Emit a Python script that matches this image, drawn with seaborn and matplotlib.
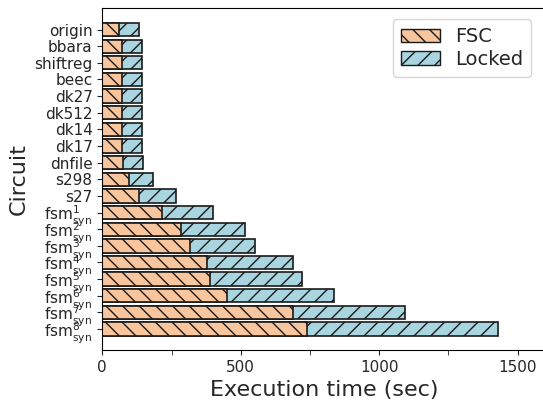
"""
Execution time per circuit: FSC time plus locking time, stacked horizontally.
"""

import pandas as pd
import numpy as np
import matplotlib.pyplot as plt
import seaborn as sns
from matplotlib.patches import Patch

# ---------------------------------------------------------------------------
# Data (seconds), top to bottom as in the figure
# ---------------------------------------------------------------------------
circuits = ["origin", "bbara", "shiftreg", "beec", "dk27", "dk512", "dk14",
            "dk17", "dnfile", "s298", "s27"] + \
           [r"fsm$_{\mathrm{syn}}^{%d}$" % i for i in range(1, 9)]

fsc_time = [61, 72, 72, 72, 72, 72, 72, 72, 73, 98, 132,
            214, 285, 315, 379, 390, 451, 688, 740]
locked_time = [71, 72, 72, 72, 72, 72, 72, 72, 75, 86, 133,
               184, 231, 235, 311, 332, 385, 405, 690]

FSC_COLOR = "#f8c59c"
LOCK_COLOR = "#a8d5e0"
EDGE = "#1a1a1a"

df = pd.DataFrame({"circuit": circuits, "FSC": fsc_time, "Locked": locked_time})
df["total"] = df["FSC"] + df["Locked"]

# ---------------------------------------------------------------------------
# Plot
# ---------------------------------------------------------------------------
sns.set_style("ticks")
plt.rcParams.update({"font.family": "DejaVu Sans", "hatch.linewidth": 1.0})

fig = plt.figure(figsize=(5.43, 4.01), dpi=100)
ax = fig.add_axes([0.1884, 0.1272, 0.816, 0.853])

# total first (Locked hatch), FSC drawn on top of its left part
sns.barplot(data=df, x="total", y="circuit", orient="h", color=LOCK_COLOR,
            saturation=1, width=0.8, edgecolor=EDGE, linewidth=1.2, ax=ax)
n = len(df)
for p in ax.patches[:n]:
    p.set_hatch("//")
sns.barplot(data=df, x="FSC", y="circuit", orient="h", color=FSC_COLOR,
            saturation=1, width=0.8, edgecolor=EDGE, linewidth=1.2, ax=ax)
for p in ax.patches[n:]:
    p.set_hatch("\\\\")

ax.set_xlim(0, 1600)
ax.set_ylim(n - 1 + 1.26, -1.3)
ax.set_xticks([0, 500, 1000, 1500])
ax.set_xticks([250, 750, 1250], minor=True)
ax.tick_params(axis="both", labelsize=11)
ax.tick_params(axis="x", which="minor", length=3.5)
ax.set_xlabel("Execution time (sec)", fontsize=16)
ax.set_ylabel("Circuit", fontsize=16)
for side in ["top", "right", "left", "bottom"]:
    ax.spines[side].set_visible(True)
    ax.spines[side].set_color("black")

handles = [Patch(facecolor=FSC_COLOR, edgecolor=EDGE, hatch="\\\\", label="FSC"),
           Patch(facecolor=LOCK_COLOR, edgecolor=EDGE, hatch="//", label="Locked")]
ax.legend(handles=handles, loc="upper right", fontsize=14, frameon=True,
          bbox_to_anchor=(0.99, 0.995), handlelength=2.0, borderpad=0.4,
          labelspacing=0.2)

fig.savefig("out.png", dpi=100)
